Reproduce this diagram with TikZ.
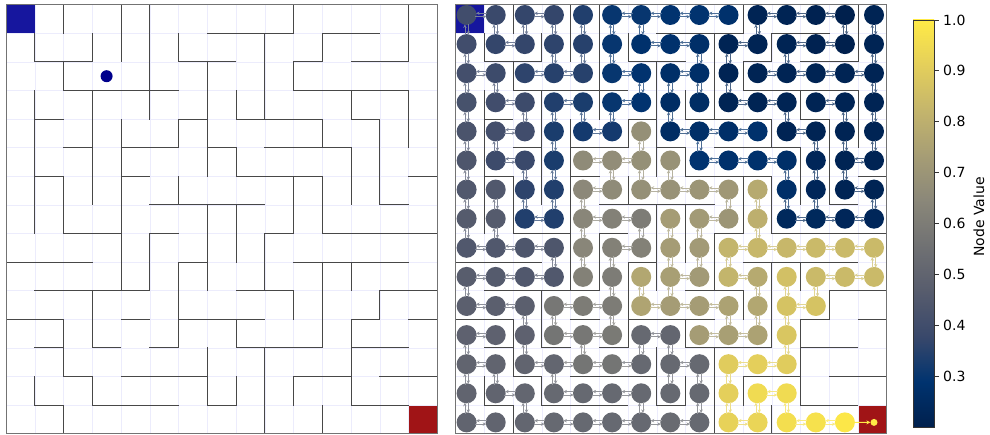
\documentclass[tikz,border=0pt]{standalone}
\usepackage{fontspec}
\setmainfont{DejaVu Sans}
\usetikzlibrary{arrows.meta}
\definecolor{cm0}{RGB}{0,32,77}
\definecolor{cm1}{RGB}{0,51,111}
\definecolor{cm2}{RGB}{57,72,107}
\definecolor{cm3}{RGB}{87,92,109}
\definecolor{cm4}{RGB}{112,113,115}
\definecolor{cm5}{RGB}{138,135,121}
\definecolor{cm6}{RGB}{166,157,117}
\definecolor{cm7}{RGB}{196,181,108}
\definecolor{cm8}{RGB}{228,207,91}
\definecolor{cm9}{RGB}{255,234,70}
\definecolor{startblue}{RGB}{22,22,158}
\definecolor{goalred}{RGB}{160,20,22}
\definecolor{agentblue}{RGB}{0,0,140}
\definecolor{gridlav}{RGB}{236,236,252}
\tikzset{
  wall/.style={line width=0.9pt,black!72,line cap=rect},
  border/.style={line width=1pt,black!55},
  gridln/.style={line width=0.5pt,gridlav},
  vnode/.style={circle,inner sep=0pt,minimum size=20pt},            % value node
  varr/.style={-{Stealth[length=3.6pt,width=3.4pt]},line width=0.7pt,
    shorten <=-1.5pt,shorten >=-0.8pt},
  cbtick/.style={line width=0.8pt,black!80},
  cblabel/.style={font=\fontsize{14}{16}\selectfont,anchor=west,inner sep=0pt},
}
% cividis lookup on the range 0.2 .. 1.0
\newcommand\valcolor[1]{%
  \pgfmathsetmacro\cmt{max(0,min(8.999,(#1-0.2)/0.8*9))}%
  \pgfmathtruncatemacro\cmi{floor(\cmt)}%
  \pgfmathtruncatemacro\cmj{\cmi+1}%
  \pgfmathtruncatemacro\cmw{round(100*(1-\cmt+\cmi))}%
  \colorlet{valcol}{cm\cmi!\cmw!cm\cmj}}
% cell codes: 1 = open to the east, 2 = open to the south
\def\mazecode{{3,2,3,2,2,3,3,1,1,0,3,1,1,2,2,
  2,1,0,2,2,2,1,1,2,3,0,3,1,0,2,
  3,2,1,1,0,1,2,3,2,2,1,1,1,1,2,
  2,1,2,3,2,3,0,2,0,1,1,2,1,2,2,
  2,3,0,2,1,0,2,1,3,1,0,1,2,2,2,
  2,1,2,2,1,3,2,2,1,1,1,2,2,3,0,
  2,2,2,2,3,0,1,1,1,2,2,2,2,1,2,
  2,2,1,0,3,1,2,2,3,0,2,1,1,1,0,
  1,1,1,2,2,3,0,2,2,3,1,1,1,1,2,
  3,1,1,0,0,2,2,3,0,1,2,2,3,1,0,
  1,1,2,3,1,2,1,1,1,2,2,3,0,3,0,
  3,0,2,1,3,0,3,2,1,1,0,2,1,1,2,
  3,2,1,3,1,1,0,3,2,3,1,0,3,1,0,
  2,1,2,1,1,1,2,0,2,2,3,2,1,1,2,
  1,0,1,1,1,1,1,1,0,1,0,1,1,1,0}}
% node values, 0 = no node
\def\nodeval{{0.40,0.38,0.37,0.37,0.34,0.30,0.30,0.29,0.29,0.28,0.22,0.22,0.21,0.20,0.22,
  0.40,0.37,0.37,0.36,0.35,0.30,0.28,0.28,0.27,0.22,0.22,0.22,0.21,0.20,0.22,
  0.41,0.39,0.36,0.35,0.35,0.30,0.29,0.27,0.27,0.22,0.22,0.22,0.22,0.22,0.22,
  0.42,0.40,0.39,0.34,0.33,0.30,0.29,0.26,0.26,0.22,0.22,0.22,0.22,0.22,0.22,
  0.43,0.41,0.40,0.33,0.32,0.32,0.68,0.26,0.27,0.27,0.28,0.22,0.22,0.22,0.22,
  0.44,0.39,0.38,0.33,0.66,0.67,0.68,0.69,0.29,0.28,0.28,0.27,0.23,0.22,0.22,
  0.45,0.45,0.36,0.34,0.65,0.66,0.68,0.69,0.70,0.71,0.78,0.27,0.23,0.22,0.22,
  0.46,0.46,0.34,0.34,0.64,0.62,0.60,0.73,0.72,0.70,0.80,0.24,0.24,0.23,0.23,
  0.45,0.45,0.44,0.44,0.64,0.62,0.62,0.73,0.72,0.82,0.83,0.83,0.84,0.84,0.84,
  0.47,0.46,0.45,0.45,0.62,0.60,0.77,0.74,0.72,0.82,0.78,0.86,0.84,0.84,0.84,
  0.48,0.48,0.48,0.58,0.60,0.60,0.76,0.73,0.73,0.75,0.77,0.87,0.87,0,0,
  0.49,0.49,0.49,0.57,0.58,0.59,0.52,0.51,0.73,0.74,0.75,0.88,0,0,0,
  0.50,0.50,0.50,0.51,0.57,0.57,0.52,0.52,0.52,0.90,0.91,0.90,0,0,0,
  0.50,0.50,0.51,0.52,0.52,0.52,0.52,0.52,0.52,0.91,0.95,0.95,0,0,0,
  0.50,0.50,0.51,0.52,0.52,0.52,0.52,0.53,0.52,0.92,0.93,0.96,0.97,0.99,0}}

\begin{document}
\begin{tikzpicture}[x=1pt,y=1pt]
  \useasboundingbox (0,0) rectangle (990,435);
  % the two mazes
  \foreach \mx in {6,455.5}{
    \fill[startblue] (\mx,430.3) rectangle ++(28.75,-28.6);
    \fill[goalred] ({\mx+14*28.75},1.3) rectangle ++(28.75,28.6);
    \foreach \i in {1,...,14}{
      \draw[gridln] ({\mx+28.75*\i},1.3) -- ++(0,429);
      \draw[gridln] (\mx,{1.3+28.6*\i}) -- ++(431.25,0);
    }
    \foreach \r in {0,...,14}{
      \foreach \c in {0,...,14}{
        \pgfmathtruncatemacro\i{15*\r+\c}
        \pgfmathtruncatemacro\k{\mazecode[\i]}
        \pgfmathsetmacro\xa{\mx+28.75*\c}
        \pgfmathsetmacro\ya{430.3-28.6*\r}
        \ifnum\c<14 \ifodd\k\else
          \draw[wall] ({\xa+28.75},\ya) -- ++(0,-28.6);
        \fi\fi
        \ifnum\r<14 \ifnum\k<2
          \draw[wall] (\xa,{\ya-28.6}) -- ++(28.75,0);
        \fi\fi
      }
    }
    \draw[border] (\mx,1.3) rectangle ++(431.25,429);
  }
  \fill[agentblue] (106.6,358.8) circle[radius=6];
  % value nodes
  \foreach \r in {0,...,14}{
    \foreach \c in {0,...,14}{
      \pgfmathtruncatemacro\i{15*\r+\c}
      \pgfmathsetmacro\v{\nodeval[\i]}
      \ifdim\v pt>0pt
        \valcolor{\v}
        \node[vnode,fill=valcol] (n-\r-\c) at ({466.6+29.1*\c},{420-29.1*\r}) {};
      \fi
    }
  }
  % arrows between open neighbours
  \foreach \r in {0,...,14}{
    \foreach \c in {0,...,14}{
      \pgfmathtruncatemacro\i{15*\r+\c}
      \pgfmathtruncatemacro\k{\mazecode[\i]}
      \pgfmathsetmacro\v{\nodeval[\i]}
      \ifdim\v pt>0pt
        \valcolor{\v}\colorlet{acol}{valcol}
        \ifodd\k
          \pgfmathtruncatemacro\j{\i+1}
          \pgfmathsetmacro\w{\nodeval[\j]}
          \ifdim\w pt>0pt
            \valcolor{\w}
            \pgfmathtruncatemacro\cc{\c+1}
            \draw[varr,acol!70!white] ([yshift=-1.7pt]n-\r-\c.east) -- ([yshift=-1.7pt]n-\r-\cc.west);
            \draw[varr,valcol!70!white] ([yshift=1.7pt]n-\r-\cc.west) -- ([yshift=1.7pt]n-\r-\c.east);
          \fi
        \fi
        \ifnum\k>1
          \pgfmathtruncatemacro\j{\i+15}
          \pgfmathsetmacro\w{\nodeval[\j]}
          \ifdim\w pt>0pt
            \valcolor{\w}
            \pgfmathtruncatemacro\rr{\r+1}
            \draw[varr,acol!70!white] ([xshift=1.7pt]n-\r-\c.south) -- ([xshift=1.7pt]n-\rr-\c.north);
            \draw[varr,valcol!70!white] ([xshift=-1.7pt]n-\rr-\c.north) -- ([xshift=-1.7pt]n-\r-\c.south);
          \fi
        \fi
      \fi
    }
  }
  \valcolor{1.0}
  \node[vnode,fill=valcol,minimum size=7pt] (goal) at (874,12.6) {};
  \draw[-{Stealth[length=4pt,width=4pt]},line width=1pt,valcol] (n-14-13) -- (goal);
  % colour bar
  \foreach \s [count=\t] in {0,...,8}{
    \shade[bottom color=cm\s,top color=cm\t] (913,{8+407*\s/9-0.2}) rectangle (934,{8+407*\t/9+0.2});
  }
  \draw[cbtick] (913,8) rectangle (934,415);
  \foreach \v [count=\n] in {0.3,0.4,0.5,0.6,0.7,0.8,0.9,1.0}{
    \pgfmathsetmacro\ty{8+(\v-0.2)/0.8*407}
    \draw[cbtick] (934,\ty) -- ++(5,0);
    \node[cblabel] (tick-\n) at (943,\ty) {\v};
  }
  \node[rotate=90,font=\fontsize{14}{16}\selectfont] (cbtitle) at (979,218) {Node Value};
\end{tikzpicture}
\end{document}
